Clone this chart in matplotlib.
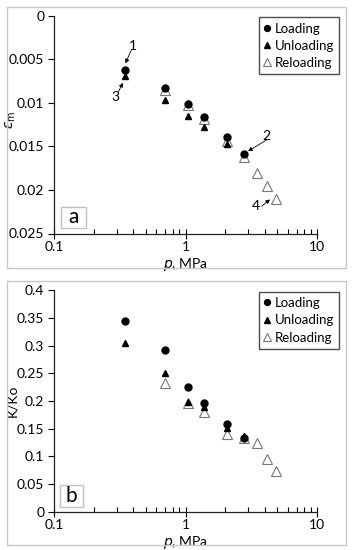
import matplotlib
matplotlib.use('Agg')
import matplotlib.pyplot as plt
from matplotlib.patches import Rectangle
from matplotlib.ticker import LogLocator, FixedLocator, NullFormatter

plt.rcParams['font.family'] = ['Lato', 'DejaVu Sans']
plt.rcParams['mathtext.fontset'] = 'dejavusans'

# pressure steps, MPa
p_load = [0.345, 0.695, 1.036, 1.392, 2.078, 2.79]
p_unload_a = [0.345, 0.695, 1.036, 1.392, 2.078]
p_unload_b = [0.345, 0.695, 1.036, 1.392, 2.078, 2.79]
p_reload = [0.695, 1.036, 1.392, 2.078, 2.79, 3.47, 4.18, 4.85]

# panel a: strain
eps_load = [0.00624, 0.00834, 0.01018, 0.01168, 0.01391, 0.0159]
eps_unload = [0.00693, 0.00972, 0.01153, 0.01276, 0.01475]
eps_reload = [0.00854, 0.0103, 0.0119, 0.01437, 0.0162, 0.01805, 0.0195, 0.02107]

# panel b: K/Ko
k_load = [0.344, 0.292, 0.226, 0.197, 0.158, 0.134]
k_unload = [0.304, 0.250, 0.199, 0.190, 0.152, 0.137]
k_reload = [0.233, 0.196, 0.180, 0.140, 0.133, 0.125, 0.095, 0.074]

# numbered arrows in panel a: label, label pos, tail, head
arrows = [('1', (0.40, 0.0035), (0.386, 0.0040), (0.349, 0.00547)),
          ('3', (0.292, 0.0093), (0.310, 0.0087), (0.334, 0.0077)),
          ('2', (4.09, 0.0138), (4.15, 0.01425), (2.99, 0.01555)),
          ('4', (3.42, 0.0219), (3.79, 0.02187), (4.39, 0.0211))]

W, H = 355, 550
fig = plt.figure(figsize=(W / 100, H / 100), dpi=100)


def px_axes(left, top, right, bottom):
    return fig.add_axes([left / W, 1 - bottom / H, (right - left) / W, (bottom - top) / H])


def frame(x0, y0, x1, y1):
    fig.add_artist(Rectangle((x0 / W, 1 - y1 / H), (x1 - x0) / W, (y1 - y0) / H,
                             transform=fig.transFigure, fill=False,
                             edgecolor='#c8c8c8', lw=1.0))


def style(ax):
    ax.set_xscale('log')
    ax.set_xlim(0.1, 10)
    ax.spines['top'].set_visible(False)
    ax.spines['right'].set_visible(False)
    for s in ['left', 'bottom']:
        ax.spines[s].set_linewidth(0.9)
        ax.spines[s].set_color('#222222')
    ax.xaxis.set_major_locator(FixedLocator([0.1, 1, 10]))
    ax.set_xticklabels(['0.1', '1', '10'])
    ax.xaxis.set_minor_locator(LogLocator(base=10, subs=range(2, 10)))
    ax.xaxis.set_minor_formatter(NullFormatter())
    ax.tick_params(axis='x', which='major', direction='inout', length=7, width=0.8, labelsize=10, pad=2)
    ax.tick_params(axis='x', which='minor', direction='in', length=3.5, width=0.8)
    ax.tick_params(axis='y', which='major', direction='out', length=4, width=0.8, labelsize=10, pad=3)
    ax.set_xlabel('$p$, MPa', fontsize=10, labelpad=2)


def draw(ax, yl, yu, yr):
    ax.plot(p_reload, yr, linestyle='none', marker='^', markersize=7.5,
            markerfacecolor='white', markeredgecolor='#777777', markeredgewidth=0.8,
            label='Reloading', zorder=2)
    ax.plot(p_unload, yu, linestyle='none', marker='^', markersize=5,
            color='black', label='Unloading', zorder=3)
    ax.plot(p_load, yl, linestyle='none', marker='o', markersize=5,
            color='black', label='Loading', zorder=4)
    h, l = ax.get_legend_handles_labels()
    order = [2, 1, 0]
    leg = ax.legend([h[i] for i in order], [l[i] for i in order], loc='upper right',
                    bbox_to_anchor=(1.095, 1.005), fontsize=9.5, frameon=True, fancybox=False,
                    handlelength=0.5, handletextpad=0.3, borderpad=0.4, labelspacing=0.4,
                    borderaxespad=0.2, markerscale=0.85)
    leg.get_frame().set_edgecolor('#222222')
    leg.get_frame().set_linewidth(1.0)


def letter(ax, txt, x0, y0, x1, y1):
    ax.add_patch(Rectangle((x0, y0), x1 - x0, y1 - y0, transform=ax.transAxes,
                           fill=False, edgecolor='#c0c0c0', lw=1.0, clip_on=False))
    ax.text((x0 + x1) / 2, (y0 + y1) / 2, txt, transform=ax.transAxes,
            ha='center', va='center', fontsize=15)


# panel a
frame(7, 7, 346, 268)
ax1 = px_axes(54, 15.7, 317, 233.5)
style(ax1)
p_unload = p_unload_a
draw(ax1, eps_load, eps_unload, eps_reload)
ax1.set_ylim(0.025, 0)
ax1.set_yticks([0, 0.005, 0.01, 0.015, 0.02, 0.025])
ax1.set_yticklabels(['0', '0.005', '0.01', '0.015', '0.02', '0.025'])
ax1.set_ylabel(r'$\varepsilon_\mathrm{m}$', fontsize=10)
ax1.yaxis.set_label_coords(-0.135, 0.52)
for lab, xyl, xyt, xyh in arrows:
    ax1.annotate('', xy=xyh, xytext=xyt,
                 arrowprops=dict(arrowstyle='-|>', color='black', lw=0.6,
                                 mutation_scale=6, shrinkA=0, shrinkB=0))
    ax1.text(xyl[0], xyl[1], lab, fontsize=10, ha='center', va='center')
letter(ax1, 'a', 0.027, 0.024, 0.122, 0.123)

# panel b
frame(7, 281, 346, 545)
ax2 = px_axes(54, 290.3, 317, 511.7)
style(ax2)
p_unload = p_unload_b
draw(ax2, k_load, k_unload, k_reload)
ax2.set_ylim(0, 0.4)
ax2.set_yticks([0, 0.05, 0.1, 0.15, 0.2, 0.25, 0.3, 0.35, 0.4])
ax2.set_yticklabels(['0', '0.05', '0.1', '0.15', '0.2', '0.25', '0.3', '0.35', '0.4'])
ax2.set_ylabel('K/Ko', fontsize=10)
ax2.yaxis.set_label_coords(-0.135, 0.5)
letter(ax2, 'b', 0.023, 0.023, 0.111, 0.12)

fig.savefig('out.png', dpi=100)
